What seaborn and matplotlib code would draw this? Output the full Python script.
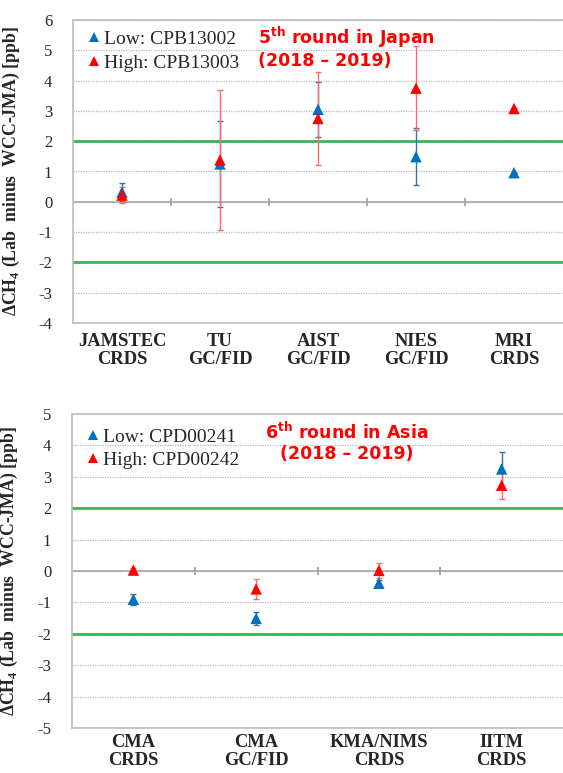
import matplotlib
matplotlib.use("Agg")
import matplotlib.pyplot as plt
from matplotlib.lines import Line2D
from matplotlib.ticker import MultipleLocator
import seaborn as sns
import pandas as pd

# ---------------- data ----------------
labs_top = ["JAMSTEC\nCRDS", "TU\nGC/FID", "AIST\nGC/FID", "NIES\nGC/FID", "MRI\nCRDS"]
low_top = [0.32, 1.25, 3.05, 1.49, 0.96]
low_top_err = [0.31, 1.41, 0.90, 0.94, 0.0]
high_top = [0.22, 1.38, 2.75, 3.75, 3.08]
high_top_err = [0.27, 2.30, 1.52, 1.38, 0.0]
low_top_name = "Low: CPB13002"
high_top_name = "High: CPB13003"

labs_bot = ["CMA\nCRDS", "CMA\nGC/FID", "KMA/NIMS\nCRDS", "IITM\nCRDS"]
low_bot = [-0.90, -1.51, -0.39, 3.25]
low_bot_err = [0.17, 0.22, 0.10, 0.53]
high_bot = [0.03, -0.57, 0.02, 2.73]
high_bot_err = [0.05, 0.31, 0.24, 0.45]
low_bot_name = "Low: CPD00241"
high_bot_name = "High: CPD00242"

BLUE = "#0070c0"
RED = "#ff0000"
BLUE_ERR = "#2f75b5"
RED_ERR = "#ff6b6b"
GREEN = "#3cb55a"

sns.set_style("white")
plt.rcParams["font.family"] = ["Liberation Serif", "DejaVu Serif"]
plt.rcParams["axes.unicode_minus"] = False
plt.rcParams["mathtext.fontset"] = "custom"
plt.rcParams["mathtext.rm"] = "Liberation Serif:bold"
plt.rcParams["mathtext.bf"] = "DejaVu Sans:bold"

fig = plt.figure(figsize=(5.63, 7.73), dpi=100)
W, H = 563.0, 773.0
ax1 = fig.add_axes([73 / W, 1 - 323 / H, 490 / W, 303 / H])
ax2 = fig.add_axes([72 / W, 1 - 728 / H, 491 / W, 314 / H])


def panel(ax, labs, low, low_err, high, high_err, names, ylim, title, title_xy, title_ha,
          leg_anchor, minor, xpad):
    df = pd.DataFrame({
        "lab": labs + labs,
        "value": low + high,
        "err": low_err + high_err,
        "series": [names[0]] * len(labs) + [names[1]] * len(labs),
    })
    n = len(labs)
    ax.set_xlim(-0.5, n - 0.5)
    ax.set_ylim(*ylim)
    # grid
    ax.yaxis.set_major_locator(MultipleLocator(1))
    ax.grid(axis="y", which="major", color="#b8b8b8", linestyle=(0, (1, 1)), linewidth=0.9)
    ax.grid(axis="x", visible=False)
    ax.set_axisbelow(True)
    # zero line and threshold lines
    ax.axhline(0, color="#a6a6a6", linewidth=1.2, zorder=1)
    ax.axhline(2, color=GREEN, linewidth=2.0, zorder=1)
    ax.axhline(-2, color=GREEN, linewidth=2.0, zorder=1)

    # error bars
    for name, ecol in ((names[0], BLUE_ERR), (names[1], RED_ERR)):
        sub = df[df["series"] == name]
        ax.errorbar(sub["lab"], sub["value"], yerr=sub["err"], fmt="none",
                    ecolor=ecol, elinewidth=1.0, capsize=2.2, capthick=1.0, zorder=2)
    # markers
    sns.scatterplot(data=df, x="lab", y="value", hue="series",
                    palette={names[0]: BLUE, names[1]: RED}, marker="^", s=68,
                    linewidth=0, legend=False, ax=ax, zorder=3)
    ax.set_xlim(-0.5, n - 0.5)
    ax.set_ylim(*ylim)

    # spines
    for s in ("left", "bottom", "top"):
        ax.spines[s].set_color("#bdbdbd")
        ax.spines[s].set_linewidth(1.2)
    ax.spines["right"].set_visible(False)

    ax.tick_params(axis="x", length=0, pad=xpad, labelsize=13.3)
    for t in ax.get_xticklabels():
        t.set_fontweight("bold")
        t.set_linespacing(1.1)
    ax.tick_params(axis="y", which="major", direction="out", length=4, pad=11,
                   labelsize=12, color="#bdbdbd")
    if minor:
        ax.yaxis.set_minor_locator(MultipleLocator(0.5))
        ax.tick_params(axis="y", which="minor", direction="in", length=4,
                       color="#bdbdbd", width=1)
    ax.set_xlabel("")
    ax.set_ylabel("ΔCH$_{4}$ (Lab  minus  WCC-JMA) [ppb]", fontsize=12.8,
                  fontweight="bold")
    ax.yaxis.set_label_coords(-0.105, 0.5)

    # tick marks on the zero line at category boundaries
    zero_frac = (0 - ylim[0]) / (ylim[1] - ylim[0])
    sec = ax.secondary_xaxis(zero_frac)
    sec.set_xticks([i + 0.5 for i in range(n - 1)])
    sec.tick_params(direction="inout", length=6, color="#9a9a9a", width=1.2, labelbottom=False,
                    labeltop=False)
    sec.spines["bottom"].set_visible(False)
    sec.spines["top"].set_visible(False)

    handles = [Line2D([], [], marker="^", ls="", color=BLUE, markersize=7, markeredgewidth=0),
               Line2D([], [], marker="^", ls="", color=RED, markersize=7, markeredgewidth=0)]
    ax.legend(handles, names, loc="upper left", bbox_to_anchor=leg_anchor, frameon=False,
              fontsize=14, handlelength=0.6, handletextpad=0.25, borderpad=0,
              labelspacing=0.3, borderaxespad=0)

    ax.text(title_xy[0], title_xy[1], title, transform=ax.transAxes, color=RED,
            fontsize=12.5, fontweight="bold", family="DejaVu Sans", ha=title_ha,
            va="top", multialignment="center", linespacing=1.15)


panel(ax1, labs_top, low_top, low_top_err, high_top, high_top_err,
      (low_top_name, high_top_name), (-4, 6),
      "5$^{\\mathbf{th}}$ round in Japan\n(2018 – 2019)", ((258 - 73) / 490, 1 - 5 / 303), "left",
      (0.03, 0.965), False, 7)
ax1.texts[-1].set_multialignment("left")
panel(ax2, labs_bot, low_bot, low_bot_err, high_bot, high_bot_err,
      (low_bot_name, high_bot_name), (-5, 5),
      "6$^{\\mathbf{th}}$ round in Asia\n(2018 – 2019)", ((347 - 72) / 491, 1 - 8 / 314), "center",
      (0.03, 0.955), True, 4)

fig.savefig("out.png", dpi=100)
